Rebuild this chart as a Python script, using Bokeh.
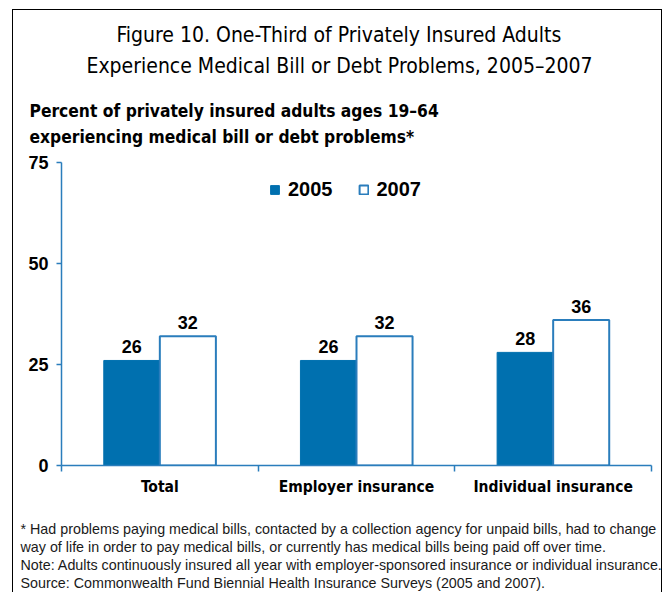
from bokeh.plotting import figure
from bokeh.models import (ColumnDataSource, FixedTicker, LabelSet, Legend,
                          LegendItem, Range1d, Title)
from bokeh.transform import dodge
from bokeh.core.properties import value
from bokeh.embed import file_html
from bokeh.resources import INLINE

# ---------------- data ----------------
categories = ["Total", "Employer insurance", "Individual insurance"]
years = ["2005", "2007"]
values_2005 = [26, 26, 28]
values_2007 = [32, 32, 36]
y_ticks = [0, 25, 50, 75]

title_lines = ["Figure 10. One-Third of Privately Insured Adults",
               "Experience Medical Bill or Debt Problems, 2005\u20132007"]
subtitle_lines = ["Percent of privately insured adults ages 19\u201364",
                  "experiencing medical bill or debt problems*"]
notes = ["* Had problems paying medical bills, contacted by a collection agency for unpaid bills, had to change",
         "way of life in order to pay medical bills, or currently has medical bills being paid off over time.",
         "Note: Adults continuously insured all year with employer-sponsored insurance or individual insurance.",
         "Source: Commonwealth Fund Biennial Health Insurance Surveys (2005 and 2007)."]

# ---------------- style ----------------
OX, OY = 14, 11                 # figure offset inside the page (border box)
W, H = 650, 583
FRAME_L, FRAME_R, FRAME_T, FRAME_B = 62 - OX, 652 - OX, 163 - OY, 466 - OY
BLUE = "#0070AF"
AXIS_BLUE = "#2A7DBC"
COND = "DejaVu Sans Condensed"
SANS = "Liberation Sans"
BAR_W = 0.285
OFF = BAR_W / 2

centers = [i + 0.5 for i in range(len(categories))]
src = ColumnDataSource(dict(
    x=centers, cat=categories,
    v2005=values_2005, v2007=values_2007,
    t2005=[str(v) for v in values_2005], t2007=[str(v) for v in values_2007],
))

p = figure(width=W, height=H, x_range=Range1d(0, len(categories)),
           y_range=Range1d(y_ticks[0], y_ticks[-1]),
           output_backend="svg", toolbar_location=None,
           min_border_left=FRAME_L, min_border_right=W - FRAME_R,
           min_border_top=FRAME_T, min_border_bottom=H - FRAME_B)
p.styles = {"border-left": "1.5px solid black", "border-top": "1.5px solid black",
            "border-right": "1.5px solid black",
            "margin-left": "12px", "margin-top": "9px"}
p.outline_line_color = None
p.grid.visible = False
p.background_fill_color = "white"
p.border_fill_color = "white"

r1 = p.vbar(x=dodge("x", -OFF, range=p.x_range), top="v2005", width=BAR_W, source=src,
            fill_color=BLUE, line_color=BLUE, line_width=1)
r2 = p.vbar(x=dodge("x", OFF, range=p.x_range), top="v2007", width=BAR_W, source=src,
            fill_color="white", line_color=AXIS_BLUE, line_width=2)

for col, off in (("2005", -OFF), ("2007", OFF)):
    p.add_layout(LabelSet(x=dodge("x", off, range=p.x_range), y="v" + col, text="t" + col,
                          source=src, y_offset=7, text_align="center", text_baseline="bottom",
                          text_font=value(SANS), text_font_size="18px", text_font_style="bold",
                          text_color="black"))

# x axis: labels at category centres, ticks at boundaries
xa = p.xaxis[0]
xa.ticker = FixedTicker(ticks=centers, minor_ticks=list(range(len(categories) + 1)))
xa.major_label_overrides = {c: name for c, name in zip(centers, categories)}
xa.major_tick_line_color = None
xa.major_tick_in = 0
xa.major_tick_out = 0
xa.minor_tick_in = 0
xa.minor_tick_out = 6
xa.minor_tick_line_color = AXIS_BLUE
xa.minor_tick_line_width = 1.5
xa.axis_line_color = AXIS_BLUE
xa.axis_line_width = 1.5
xa.major_label_text_font = COND
xa.major_label_text_font_size = "15.5px"
xa.major_label_text_font_style = "bold"
xa.major_label_text_color = "black"
xa.major_label_standoff = 6

ya = p.yaxis[0]
ya.ticker = FixedTicker(ticks=y_ticks, minor_ticks=[])
ya.axis_line_color = AXIS_BLUE
ya.axis_line_width = 1.5
ya.major_tick_line_color = AXIS_BLUE
ya.major_tick_line_width = 1.5
ya.major_tick_in = 0
ya.major_tick_out = 5
ya.minor_tick_line_color = None
ya.major_label_text_font = SANS
ya.major_label_text_font_size = "18px"
ya.major_label_text_font_style = "bold"
ya.major_label_text_color = "black"
ya.major_label_standoff = 8

legend = Legend(items=[LegendItem(label=years[0], renderers=[r1]),
                       LegendItem(label=years[1], renderers=[r2])],
                orientation="horizontal", location=(208, 264),
                glyph_width=11, glyph_height=11, label_standoff=8, spacing=25,
                padding=0, margin=0, border_line_color=None, background_fill_alpha=0,
                label_text_font=SANS, label_text_font_size="20px",
                label_text_font_style="bold", label_text_color="black")
p.add_layout(legend)


def spacer(gap):
    return Title(text=" ", text_font_size="1px", standoff=gap, vertical_align="middle")


def line(text, font, size, style, standoff, align="left", offset=0, color="black"):
    return Title(text=text, align=align, offset=offset, standoff=standoff,
                 vertical_align="middle", text_font=font, text_font_size=size,
                 text_font_style=style, text_color=color)


# above panel: items nearest to the frame are added first
p.add_layout(spacer(10), "above")
p.add_layout(line(subtitle_lines[1], COND, "17.3px", "bold", 4, offset=30 - 62), "above")
p.add_layout(line(subtitle_lines[0], COND, "17.3px", "bold", 4, offset=30 - 62), "above")
p.add_layout(spacer(12.4), "above")
p.add_layout(line(title_lines[1], COND, "21px", "normal", 5.2, offset=25), "above")
p.add_layout(line(title_lines[0], COND, "21px", "normal", 5.2, offset=55), "above")

# below panel: footnotes
p.add_layout(spacer(17.5), "below")
for t in notes:
    p.add_layout(line(t, SANS, "14.3px", "normal", 0.2, offset=21 - 62, color="#1a1a1a"), "below")

open("out.html", "w").write(file_html(p, INLINE))
